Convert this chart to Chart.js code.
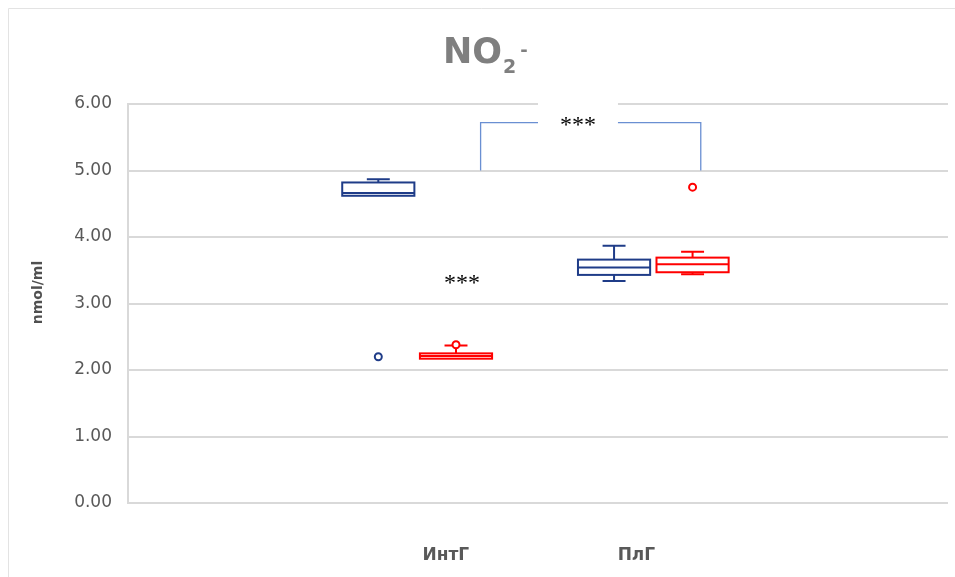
<!DOCTYPE html>
<html>
<head>
<meta charset="utf-8">
<title>NO2- box plot</title>
<script src="https://cdn.jsdelivr.net/npm/chart.js@4/dist/chart.umd.min.js"></script>
<style>
  html, body { margin: 0; padding: 0; background: #ffffff; }
  #wrap { width: 955px; height: 577px; position: relative; }
</style>
</head>
<body>
<div id="wrap"><canvas id="chart"></canvas></div>
<script>
// Groups on the x axis
const categories = ['ИнтГ', 'ПлГ'];

// Series 1 (navy) five-number summaries per group, nmol/ml
const s1Min    = [4.62, 3.34];
const s1Q1     = [4.62, 3.43];
const s1Median = [4.66, 3.54];
const s1Q3     = [4.82, 3.66];
const s1Max    = [4.87, 3.87];
const s1Outliers = [[2.20], []];

// Series 2 (red) five-number summaries per group, nmol/ml
const s2Min    = [2.17, 3.44];
const s2Q1     = [2.17, 3.47];
const s2Median = [2.21, 3.59];
const s2Q3     = [2.25, 3.69];
const s2Max    = [2.37, 3.78];
const s2Outliers = [[2.38], [4.75]];

// Y axis tick values and title
const yTicks = [0, 1, 2, 3, 4, 5, 6];
const yTitle = 'nmol/ml';

// Significance marks
const sigText = '***';

// ---- placement on the x axis (axis runs 0..4) ----
const place = {
  label: [1.55, 2.48],          // where each group name sits
  s1: [1.221, 2.371],           // box centres, series 1
  s2: [1.600, 2.754],           // box centres, series 2
  halfBox: 0.176,
  halfCap: 0.056,
  bracket: { x1: 1.72, x2: 2.794, top: 5.72, foot: 5.0, textX: 2.195, gapHalf: 0.195 },
  mark2: { x: 1.629, y: 3.34 }
};

const NAVY = '#1F3C88';
const RED = '#FF0000';
const GRID = '#d9d9d9';

function outlierPoints(centres, lists) {
  const pts = [];
  lists.forEach((vals, i) => vals.forEach(v => pts.push({ x: centres[i], y: v })));
  return pts;
}

const boxSeries = [
  { color: NAVY, centres: place.s1, min: s1Min, q1: s1Q1, med: s1Median, q3: s1Q3, max: s1Max },
  { color: RED,  centres: place.s2, min: s2Min, q1: s2Q1, med: s2Median, q3: s2Q3, max: s2Max }
];

// Boxes and whiskers, drawn through the chart's scales
const boxPlugin = {
  id: 'boxes',
  beforeDatasetsDraw(chart) {
    const { ctx, scales: { x, y } } = chart;
    ctx.save();
    ctx.lineWidth = 2;
    boxSeries.forEach(s => {
      ctx.strokeStyle = s.color;
      s.centres.forEach((c, i) => {
        const xl = x.getPixelForValue(c - place.halfBox);
        const xr = x.getPixelForValue(c + place.halfBox);
        const xc = x.getPixelForValue(c);
        const cl = x.getPixelForValue(c - place.halfCap);
        const cr = x.getPixelForValue(c + place.halfCap);
        const yMin = y.getPixelForValue(s.min[i]);
        const yQ1 = y.getPixelForValue(s.q1[i]);
        const yMed = y.getPixelForValue(s.med[i]);
        const yQ3 = y.getPixelForValue(s.q3[i]);
        const yMax = y.getPixelForValue(s.max[i]);
        ctx.beginPath();
        // whiskers
        if (s.max[i] > s.q3[i]) {
          ctx.moveTo(xc, yQ3); ctx.lineTo(xc, yMax);
          ctx.moveTo(cl, yMax); ctx.lineTo(cr, yMax);
        }
        if (s.min[i] < s.q1[i]) {
          ctx.moveTo(xc, yQ1); ctx.lineTo(xc, yMin);
          ctx.moveTo(cl, yMin); ctx.lineTo(cr, yMin);
        }
        ctx.stroke();
        ctx.fillStyle = '#ffffff';
        ctx.fillRect(xl, yQ3, xr - xl, yQ1 - yQ3);
        ctx.strokeRect(xl, yQ3, xr - xl, yQ1 - yQ3);
        ctx.beginPath();
        ctx.moveTo(xl, yMed); ctx.lineTo(xr, yMed);
        ctx.stroke();
      });
    });
    ctx.restore();
  },
  afterDatasetsDraw(chart) {
    const { ctx, scales: { x, y } } = chart;
    const b = place.bracket;
    ctx.save();
    // bracket between groups
    const bx1 = x.getPixelForValue(b.x1);
    const bx2 = x.getPixelForValue(b.x2);
    const by = y.getPixelForValue(b.top);
    const bf = y.getPixelForValue(b.foot);
    ctx.strokeStyle = '#6a8fd2';
    ctx.lineWidth = 1.3;
    ctx.beginPath();
    ctx.moveTo(bx1, bf); ctx.lineTo(bx1, by); ctx.lineTo(bx2, by); ctx.lineTo(bx2, bf);
    ctx.stroke();
    // white label box behind the stars
    const gl = x.getPixelForValue(b.textX - b.gapHalf);
    const gr = x.getPixelForValue(b.textX + b.gapHalf);
    ctx.fillStyle = '#ffffff';
    ctx.fillRect(gl, y.getPixelForValue(6) - 6, gr - gl, by - y.getPixelForValue(6) + 14);
    ctx.fillStyle = '#000000';
    ctx.font = '24px "Liberation Serif", serif';
    ctx.textAlign = 'center';
    ctx.textBaseline = 'alphabetic';
    ctx.fillText(sigText, x.getPixelForValue(b.textX), by + 9);
    ctx.fillText(sigText, x.getPixelForValue(place.mark2.x), y.getPixelForValue(place.mark2.y) + 9);
    ctx.restore();
  },
  afterDraw(chart) {
    const { ctx, chartArea } = chart;
    ctx.save();
    // chart frame
    ctx.strokeStyle = '#e3e3e3';
    ctx.lineWidth = 1;
    ctx.beginPath();
    ctx.moveTo(8.5, 577); ctx.lineTo(8.5, 8.5); ctx.lineTo(955, 8.5);
    ctx.stroke();
    // y axis title
    ctx.save();
    ctx.translate(38, (chartArea.top + chartArea.bottom) / 2 - 11);
    ctx.rotate(-Math.PI / 2);
    ctx.fillStyle = '#505050';
    ctx.font = 'bold 14px "DejaVu Sans", sans-serif';
    ctx.textAlign = 'center';
    ctx.textBaseline = 'middle';
    ctx.fillText(yTitle, 0, 0);
    ctx.restore();
    // title NO2-
    ctx.fillStyle = '#7f7f7f';
    ctx.textBaseline = 'alphabetic';
    ctx.textAlign = 'left';
    ctx.font = 'bold 35px "DejaVu Sans", sans-serif';
    const base = 63;
    let tx = 443;
    ctx.fillText('NO', tx, base);
    tx += ctx.measureText('NO').width + 1;
    ctx.font = 'bold 19px "DejaVu Sans", sans-serif';
    ctx.fillText('2', tx, base + 10);
    tx += ctx.measureText('2').width + 4;
    ctx.font = 'bold 18px "DejaVu Sans", sans-serif';
    ctx.fillText('-', tx, base - 7);
    ctx.restore();
  }
};

const labelMap = new Map(place.label.map((v, i) => [v, categories[i]]));

new Chart(document.getElementById('chart'), {
  type: 'scatter',
  data: {
    datasets: [
      {
        label: 'series 1 outliers',
        data: outlierPoints(place.s1, s1Outliers),
        borderColor: NAVY, backgroundColor: '#ffffff',
        pointRadius: 3.5, borderWidth: 2, pointHoverRadius: 3.5
      },
      {
        label: 'series 2 outliers',
        data: outlierPoints(place.s2, s2Outliers),
        borderColor: RED, backgroundColor: '#ffffff',
        pointRadius: 3.5, borderWidth: 2, pointHoverRadius: 3.5
      }
    ]
  },
  options: {
    responsive: true,
    maintainAspectRatio: false,
    animation: false,
    events: [],
    layout: { padding: { top: 104, right: 7, left: 0, bottom: 0 } },
    plugins: { legend: { display: false }, title: { display: false }, tooltip: { enabled: false } },
    scales: {
      x: {
        type: 'linear', min: 0, max: 4,
        grid: { display: false },
        border: { display: false },
        afterBuildTicks: axis => { axis.ticks = place.label.map(v => ({ value: v })); },
        afterFit: axis => { axis.height = 74; },
        ticks: {
          padding: 34,
          color: '#595959',
          font: { family: '"DejaVu Sans", sans-serif', size: 17, weight: 'bold' },
          callback: v => labelMap.get(v) || ''
        }
      },
      y: {
        min: 0, max: 6,
        afterBuildTicks: axis => { axis.ticks = yTicks.map(v => ({ value: v })); },
        afterFit: axis => { axis.width = 128; },
        grid: { color: GRID, lineWidth: 2, drawTicks: false },
        border: { display: true, color: GRID, width: 2 },
        ticks: {
          padding: 16,
          color: '#595959',
          font: { family: '"DejaVu Sans", sans-serif', size: 17 },
          callback: v => v.toFixed(2)
        }
      }
    }
  },
  plugins: [boxPlugin]
});
</script>
</body>
</html>
